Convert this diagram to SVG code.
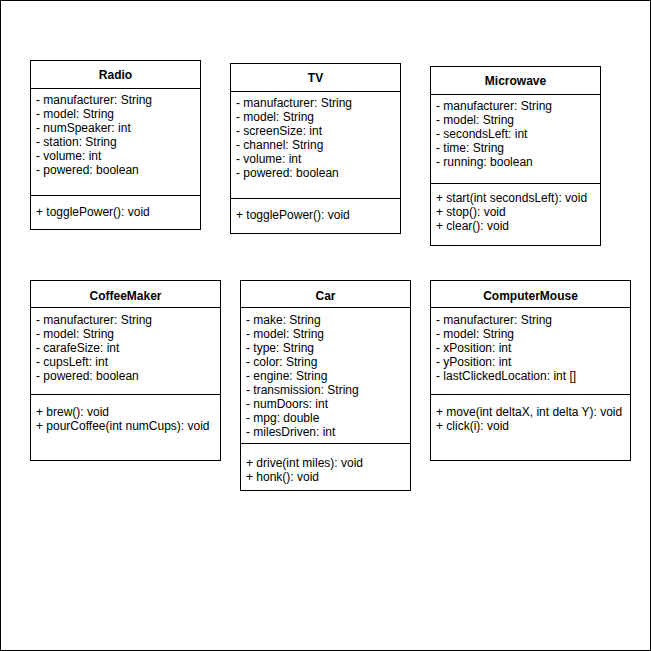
<svg xmlns="http://www.w3.org/2000/svg" width="651" height="651" viewBox="0 0 651 651">
<style>
.box{fill:#fff;stroke:#000;stroke-width:1}
.ln{stroke:#000;stroke-width:1;fill:none}
.t{font-family:"Liberation Sans",Arial,Helvetica,sans-serif;font-size:12px;fill:#000}
.h{font-family:"Liberation Sans",Arial,Helvetica,sans-serif;font-size:12px;font-weight:bold;fill:#000;text-anchor:middle}
</style>
<rect x="0.5" y="0.5" width="650" height="650" fill="#fff" stroke="#000"/>
<g id="Radio">
<rect class="box" x="30.5" y="60.5" width="170" height="169"/>
<line class="ln" x1="30.5" y1="88.5" x2="200.5" y2="88.5"/>
<line class="ln" x1="30.5" y1="195.5" x2="200.5" y2="195.5"/>
<text class="h" x="115.5" y="79">Radio</text>
<text class="t" x="36" y="104">- manufacturer: String</text>
<text class="t" x="36" y="118">- model: String</text>
<text class="t" x="36" y="132">- numSpeaker: int</text>
<text class="t" x="36" y="146">- station: String</text>
<text class="t" x="36" y="160">- volume: int</text>
<text class="t" x="36" y="174">- powered: boolean</text>
<text class="t" x="36" y="216">+ togglePower(): void</text>
</g>
<g id="TV">
<rect class="box" x="230.5" y="63.5" width="170" height="170"/>
<line class="ln" x1="230.5" y1="91.5" x2="400.5" y2="91.5"/>
<line class="ln" x1="230.5" y1="198.5" x2="400.5" y2="198.5"/>
<text class="h" x="315.5" y="82">TV</text>
<text class="t" x="236" y="107">- manufacturer: String</text>
<text class="t" x="236" y="121">- model: String</text>
<text class="t" x="236" y="135">- screenSize: int</text>
<text class="t" x="236" y="149">- channel: String</text>
<text class="t" x="236" y="163">- volume: int</text>
<text class="t" x="236" y="177">- powered: boolean</text>
<text class="t" x="236" y="219">+ togglePower(): void</text>
</g>
<g id="Microwave">
<rect class="box" x="430.5" y="66.5" width="170" height="179"/>
<line class="ln" x1="430.5" y1="94.5" x2="600.5" y2="94.5"/>
<line class="ln" x1="430.5" y1="183.5" x2="600.5" y2="183.5"/>
<text class="h" x="515.5" y="85">Microwave</text>
<text class="t" x="436" y="110">- manufacturer: String</text>
<text class="t" x="436" y="124">- model: String</text>
<text class="t" x="436" y="138">- secondsLeft: int</text>
<text class="t" x="436" y="152">- time: String</text>
<text class="t" x="436" y="166">- running: boolean</text>
<text class="t" x="436" y="202">+ start(int secondsLeft): void</text>
<text class="t" x="436" y="216">+ stop(): void</text>
<text class="t" x="436" y="230">+ clear(): void</text>
</g>
<g id="CoffeeMaker">
<rect class="box" x="30.5" y="280.5" width="190" height="180"/>
<line class="ln" x1="30.5" y1="307.5" x2="220.5" y2="307.5"/>
<line class="ln" x1="30.5" y1="394.5" x2="220.5" y2="394.5"/>
<text class="h" x="125.5" y="300">CoffeeMaker</text>
<text class="t" x="36" y="324">- manufacturer: String</text>
<text class="t" x="36" y="338">- model: String</text>
<text class="t" x="36" y="352">- carafeSize: int</text>
<text class="t" x="36" y="366">- cupsLeft: int</text>
<text class="t" x="36" y="380">- powered: boolean</text>
<text class="t" x="36" y="416">+ brew(): void</text>
<text class="t" x="36" y="430">+ pourCoffee(int numCups): void</text>
</g>
<g id="Car">
<rect class="box" x="240.5" y="280.5" width="170" height="210"/>
<line class="ln" x1="240.5" y1="307.5" x2="410.5" y2="307.5"/>
<line class="ln" x1="240.5" y1="443.5" x2="410.5" y2="443.5"/>
<text class="h" x="325.5" y="300">Car</text>
<text class="t" x="246" y="324">- make: String</text>
<text class="t" x="246" y="338">- model: String</text>
<text class="t" x="246" y="352">- type: String</text>
<text class="t" x="246" y="366">- color: String</text>
<text class="t" x="246" y="380">- engine: String</text>
<text class="t" x="246" y="394">- transmission: String</text>
<text class="t" x="246" y="408">- numDoors: int</text>
<text class="t" x="246" y="422">- mpg: double</text>
<text class="t" x="246" y="436">- milesDriven: int</text>
<text class="t" x="246" y="467">+ drive(int miles): void</text>
<text class="t" x="246" y="481">+ honk(): void</text>
</g>
<g id="ComputerMouse">
<rect class="box" x="430.5" y="280.5" width="200" height="180"/>
<line class="ln" x1="430.5" y1="307.5" x2="630.5" y2="307.5"/>
<line class="ln" x1="430.5" y1="394.5" x2="630.5" y2="394.5"/>
<text class="h" x="530.5" y="300">ComputerMouse</text>
<text class="t" x="436" y="324">- manufacturer: String</text>
<text class="t" x="436" y="338">- model: String</text>
<text class="t" x="436" y="352">- xPosition: int</text>
<text class="t" x="436" y="366">- yPosition: int</text>
<text class="t" x="436" y="380">- lastClickedLocation: int []</text>
<text class="t" x="436" y="416">+ move(int deltaX, int delta Y): void</text>
<text class="t" x="436" y="430">+ click(i): void</text>
</g>
<g id="connectors"></g>
</svg>
